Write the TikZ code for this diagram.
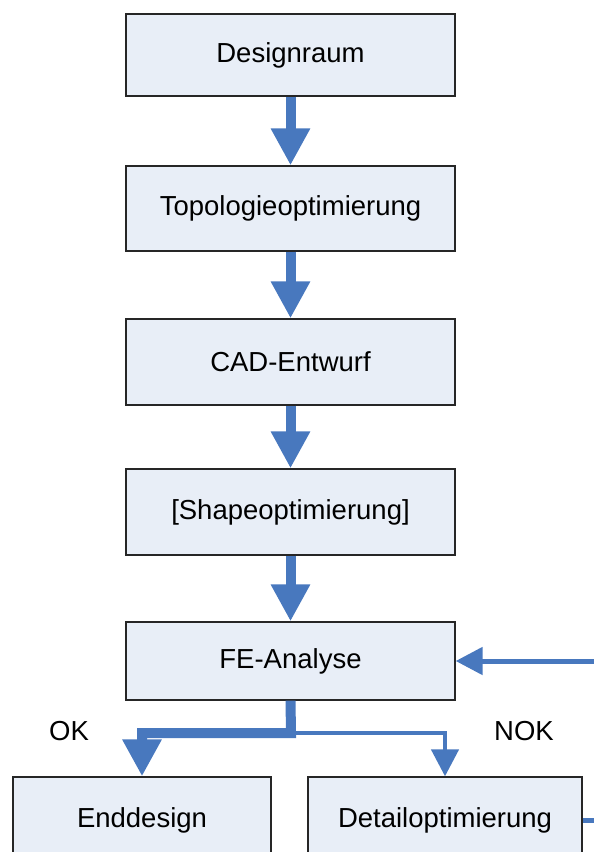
\documentclass[tikz,border=0pt]{standalone}
\usepackage{fontspec}
\setmainfont{Liberation Sans}
\usetikzlibrary{arrows.meta}
\definecolor{boxfill}{RGB}{232,238,247}
\definecolor{flowblue}{RGB}{72,120,190}
\tikzset{
  stepbox/.style={draw=black!85, line width=1.3pt, fill=boxfill, inner sep=0pt,
    font=\fontsize{27.5}{32}\selectfont},
  bigflow/.style={draw=flowblue, line width=10pt, line join=miter,
    -{Triangle[width=37pt,length=37pt]}, flowblue},
  smallflow/.style={draw=flowblue, line width=4.5pt, line join=miter,
    -{Triangle[width=27pt,length=27pt]}, flowblue},
  lbl/.style={font=\fontsize{27.5}{32}\selectfont}
}
\begin{document}
\begin{tikzpicture}[x=1pt, y=-1pt]
  \useasboundingbox (0,0) rectangle (594,852);
  \clip (0,0) rectangle (594,852);
  % process chain
  \node[stepbox, minimum width=329pt, minimum height=82pt] (design) at (290.5,55) {Designraum};
  \node[stepbox, minimum width=329pt, minimum height=85pt] (topo) at (290.5,208.5) {Topologieoptimierung};
  \node[stepbox, minimum width=329pt, minimum height=86pt] (cad) at (290.5,362) {CAD-Entwurf};
  \node[stepbox, minimum width=329pt, minimum height=86pt] (shape) at (290.5,512) {[Shapeoptimierung]};
  \node[stepbox, minimum width=329pt, minimum height=78pt] (fe) at (290.5,661) {FE-Analyse};
  \node[stepbox, minimum width=258pt, minimum height=86pt] (end) at (142,820) {Enddesign};
  \node[stepbox, minimum width=274pt, minimum height=86pt] (detail) at (445,820) {Detailoptimierung};
  % branch labels
  \node[lbl] (ok) at (69,731) {OK};
  \node[lbl] (nok) at (524,731) {NOK};
  % loop ends at the right edge
  \coordinate (loopin) at (594,661);
  \coordinate (loopout) at (594,820);
  \coordinate (split) at (291,733);
  % main flow
  \draw[bigflow] (design) -- (topo);
  \draw[bigflow] (topo) -- (cad);
  \draw[bigflow] (cad) -- (shape);
  \draw[bigflow] (shape) -- (fe);
  % branches after the analysis
  \draw[smallflow] (split) -| (detail.north);
  \draw[bigflow] (fe.south) -- (split) -| (end.north);
  % feedback loop
  \draw[flowblue, line width=5pt] (detail.east) -- (loopout);
  \draw[smallflow, line width=5pt] (loopin) -- (fe.east);
\end{tikzpicture}
\end{document}
